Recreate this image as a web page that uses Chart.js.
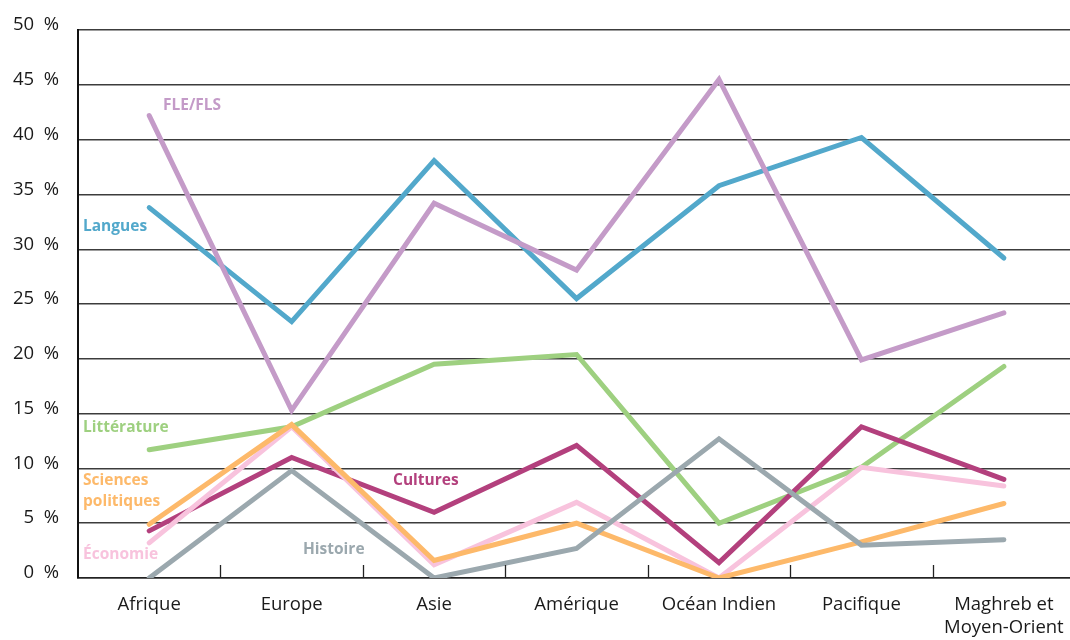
<!DOCTYPE html>
<html>
<head>
<meta charset="utf-8">
<script src="https://cdn.jsdelivr.net/npm/chart.js@4/dist/chart.umd.min.js"></script>
<style>
html,body{margin:0;padding:0;background:#fff;overflow:hidden;}
#wrap{width:1070px;height:640px;overflow:hidden;position:relative;}
canvas{display:block;}
</style>
</head>
<body>
<div id="wrap"><canvas id="c" width="1080" height="640"></canvas></div>
<script>
const categories = ["Afrique","Europe","Asie","Amérique","Océan Indien","Pacifique",["Maghreb et","Moyen-Orient"]];
const fleFls      = [42.2, 15.3, 34.2, 28.1, 45.5, 19.9, 24.2];
const langues     = [33.8, 23.4, 38.1, 25.5, 35.8, 40.2, 29.2];
const litterature = [11.7, 13.8, 19.5, 20.4, 5.0, 10.1, 19.3];
const cultures    = [4.3, 11.0, 6.0, 12.1, 1.4, 13.8, 9.0];
const sciencesPo  = [4.9, 14.0, 1.6, 5.0, 0.0, 3.3, 6.8];
const economie    = [3.2, 13.8, 1.2, 6.9, 0.0, 10.1, 8.4];
const histoire    = [0.0, 9.8, 0.0, 2.7, 12.7, 3.0, 3.5];
const yTicks      = [0,5,10,15,20,25,30,35,40,45,50];

const FONT = "'Open Sans', 'Noto Sans', sans-serif";

const seriesDefs = [
  {label:"Histoire", data:histoire, color:"#9ba8ae"},
  {label:"Sciences politiques", data:sciencesPo, color:"#fdb96a"},
  {label:"Économie", data:economie, color:"#f8c3dd"},
  {label:"Cultures", data:cultures, color:"#b3407d"},
  {label:"Littérature", data:litterature, color:"#9ed080"},
  {label:"FLE/FLS", data:fleFls, color:"#c49bc8"},
  {label:"Langues", data:langues, color:"#52a8cb"}
];

// text annotations: [lines, color, x pixel, y value (%)]
const annotations = [
  {lines:["FLE/FLS"], color:"#c49bc8", x:163, y:43.1},
  {lines:["Langues"], color:"#52a8cb", x:83, y:32.1},
  {lines:["Littérature"], color:"#9ed080", x:83, y:13.7},
  {lines:["Sciences","politiques"], color:"#fdb96a", x:83, y:8.9},
  {lines:["Économie"], color:"#f8c3dd", x:83, y:2.1},
  {lines:["Histoire"], color:"#9ba8ae", x:303, y:2.6},
  {lines:["Cultures"], color:"#b3407d", x:393, y:8.9}
];

const annotPlugin = {
  id:"annot",
  afterDatasetsDraw(chart){
    const ctx = chart.ctx, ys = chart.scales.y, xs = chart.scales.x;
    ctx.save();
    ctx.strokeStyle = "#222"; ctx.lineWidth = 1.3;
    const bottom = chart.chartArea.bottom;
    for(let i=0;i<categories.length-1;i++){
      const px = Math.round((xs.getPixelForValue(i)+xs.getPixelForValue(i+1))/2)+0.5;
      ctx.beginPath(); ctx.moveTo(px,bottom); ctx.lineTo(px,bottom-13); ctx.stroke();
    }
    ctx.font = "bold 15.5px " + FONT;
    ctx.textBaseline = "middle"; ctx.textAlign = "left";
    annotations.forEach(a=>{
      ctx.fillStyle = a.color;
      const y0 = ys.getPixelForValue(a.y);
      a.lines.forEach((t,k)=>ctx.fillText(t, a.x, y0 + k*21));
    });
    ctx.restore();
  }
};

new Chart(document.getElementById("c"), {
  type:"line",
  data:{
    labels:categories,
    datasets:seriesDefs.map(s=>({
      label:s.label, data:s.data, borderColor:s.color, backgroundColor:s.color,
      borderWidth:5, pointRadius:0, tension:0, borderJoinStyle:"miter", borderCapStyle:"round"
    }))
  },
  options:{
    responsive:false, animation:false, devicePixelRatio:1,
    layout:{padding:{top:30,right:4,left:0,bottom:0}},
    plugins:{legend:{display:false}, tooltip:{enabled:false}},
    scales:{
      x:{
        offset:true,
        grid:{display:false, drawTicks:false},
        border:{display:true, color:"#222", width:1.5},
        ticks:{color:"#1a1a1a", font:{family:FONT, size:18.5, lineHeight:1.2}, padding:16, maxRotation:0, autoSkip:false},
        afterFit(s){ s.height = 62; }
      },
      y:{
        min:0, max:50,
        afterBuildTicks(s){ s.ticks = yTicks.map(v=>({value:v})); },
        grid:{color:"#3c3c3c", lineWidth:1.5, drawTicks:false},
        border:{display:true, color:"#111", width:2},
        ticks:{color:"#1a1a1a", font:{family:FONT, size:18.5}, padding:19, labelOffset:-5,
          callback:v=>v+"  %"},
        afterFit(s){ s.width = 78; }
      }
    }
  },
  plugins:[annotPlugin]
});
</script>
</body>
</html>
